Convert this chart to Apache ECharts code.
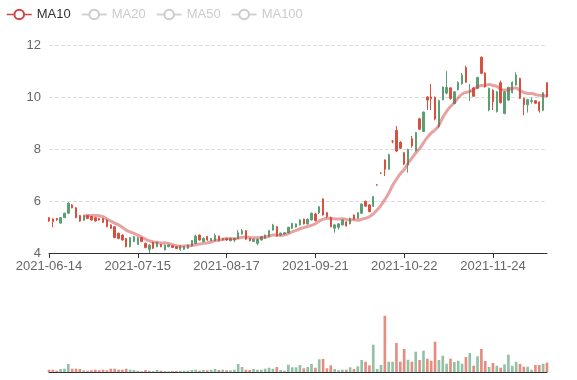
<!DOCTYPE html>
<html><head><meta charset="utf-8">
<script src="https://cdn.jsdelivr.net/npm/echarts@6/dist/echarts.min.js"></script>
<style>html,body{margin:0;padding:0;background:#fff;} #main{width:577px;height:380px;}</style>
</head><body><div id="main"></div>
<script>
const dates = [
'2021-06-14','2021-06-15','2021-06-16','2021-06-17','2021-06-18','2021-06-21','2021-06-22','2021-06-23','2021-06-24','2021-06-25',
'2021-06-28','2021-06-29','2021-06-30','2021-07-01','2021-07-02','2021-07-05','2021-07-06','2021-07-07','2021-07-08','2021-07-09',
'2021-07-12','2021-07-13','2021-07-14','2021-07-15','2021-07-16','2021-07-19','2021-07-20','2021-07-21','2021-07-22','2021-07-23',
'2021-07-26','2021-07-27','2021-07-28','2021-07-29','2021-07-30','2021-08-02','2021-08-03','2021-08-04','2021-08-05','2021-08-06',
'2021-08-09','2021-08-10','2021-08-11','2021-08-12','2021-08-13','2021-08-16','2021-08-17','2021-08-18','2021-08-19','2021-08-20',
'2021-08-23','2021-08-24','2021-08-25','2021-08-26','2021-08-27','2021-08-30','2021-08-31','2021-09-01','2021-09-02','2021-09-03',
'2021-09-07','2021-09-08','2021-09-09','2021-09-10','2021-09-13','2021-09-14','2021-09-15','2021-09-16','2021-09-17','2021-09-21',
'2021-09-22','2021-09-23','2021-09-24','2021-09-27','2021-09-28','2021-09-29','2021-09-30','2021-10-01','2021-10-04','2021-10-05',
'2021-10-06','2021-10-07','2021-10-08','2021-10-11','2021-10-12','2021-10-13','2021-10-14','2021-10-15','2021-10-18','2021-10-19',
'2021-10-20','2021-10-21','2021-10-22','2021-10-25','2021-10-26','2021-10-27','2021-10-28','2021-10-29','2021-11-01','2021-11-02',
'2021-11-03','2021-11-04','2021-11-05','2021-11-08','2021-11-09','2021-11-10','2021-11-11','2021-11-12','2021-11-15','2021-11-16',
'2021-11-17','2021-11-18','2021-11-19','2021-11-22','2021-11-23','2021-11-24','2021-11-25','2021-11-26','2021-11-29','2021-11-30',
'2021-12-01','2021-12-02','2021-12-03','2021-12-06','2021-12-07','2021-12-08','2021-12-09','2021-12-10','2021-12-13','2021-12-14'
];
// [open, close, low, high]
const ohlc = [
[5.36,5.23,5.20,5.38],[5.31,5.21,4.99,5.33],[5.33,5.27,5.24,5.35],[5.15,5.36,5.13,5.38],[5.36,5.53,5.34,5.55],
[5.53,5.91,5.50,5.95],[5.85,5.74,5.72,5.88],[5.74,5.36,5.34,5.76],[5.44,5.23,5.20,5.46],[5.26,5.44,5.24,5.46],
[5.44,5.33,5.30,5.46],[5.40,5.27,5.25,5.43],[5.36,5.23,5.21,5.38],[5.33,5.27,5.25,5.35],[5.33,5.18,5.16,5.35],
[5.27,5.01,4.99,5.29],[5.08,4.95,4.93,5.10],[5.01,4.59,4.57,5.03],[4.76,4.56,4.53,4.78],[4.69,4.50,4.48,4.71],
[4.56,4.24,4.22,4.58],[4.24,4.59,4.22,4.62],[4.44,4.63,4.42,4.66],[4.33,4.59,4.31,4.62],[4.59,4.44,4.42,4.62],
[4.37,4.21,4.18,4.40],[4.14,4.31,4.00,4.33],[4.41,4.18,4.15,4.43],[4.24,4.41,4.22,4.43],[4.33,4.24,4.22,4.35],
[4.12,4.31,4.10,4.33],[4.24,4.31,4.22,4.33],[4.28,4.21,4.19,4.30],[4.24,4.17,4.15,4.26],[4.14,4.27,4.08,4.29],
[4.14,4.24,4.12,4.26],[4.18,4.31,4.16,4.33],[4.27,4.48,4.25,4.50],[4.37,4.65,4.35,4.71],[4.69,4.50,4.48,4.71],
[4.44,4.56,4.42,4.60],[4.63,4.50,4.47,4.65],[4.47,4.56,4.45,4.58],[4.47,4.68,4.45,4.75],[4.65,4.47,4.45,4.67],
[4.50,4.56,4.48,4.58],[4.56,4.50,4.48,4.58],[4.47,4.56,4.45,4.58],[4.50,4.56,4.42,4.58],[4.56,4.78,4.54,4.88],
[4.73,4.86,4.71,4.92],[4.86,4.53,4.50,4.88],[4.56,4.47,4.45,4.58],[4.44,4.53,4.42,4.56],[4.37,4.53,4.30,4.55],
[4.50,4.63,4.48,4.65],[4.56,4.69,4.54,4.71],[4.63,4.86,4.61,4.88],[4.88,5.08,4.86,5.12],[5.01,4.65,4.63,5.03],
[4.69,4.76,4.67,4.79],[4.73,4.78,4.70,4.81],[4.78,4.99,4.76,5.01],[4.95,5.14,4.93,5.16],[5.00,5.12,4.98,5.14],
[5.08,5.27,5.06,5.30],[5.30,5.12,5.10,5.32],[5.12,5.30,5.10,5.33],[5.27,5.53,5.25,5.56],[5.50,5.24,5.22,5.55],
[5.55,5.78,5.50,5.80],[6.08,5.46,5.44,6.10],[5.55,5.40,5.35,5.58],[5.37,5.01,4.99,5.40],[4.95,5.08,4.78,5.12],
[4.99,5.12,4.90,5.15],[5.08,5.27,5.06,5.30],[5.20,5.04,5.02,5.22],[5.12,5.33,5.10,5.36],[5.46,5.30,5.28,5.48],
[5.33,5.55,5.31,5.57],[5.53,5.88,5.50,5.91],[5.99,5.80,5.78,6.01],[5.85,5.59,5.57,5.88],[5.80,6.17,5.78,6.19],
[6.62,6.62,6.59,6.65],[7.07,7.07,7.04,7.10],[7.58,7.22,6.96,7.60],[7.22,7.78,7.20,7.82],[8.30,8.30,8.22,8.35],
[8.71,7.92,7.88,8.88],[8.26,8.03,8.01,8.30],[7.86,7.42,7.38,7.88],[7.38,7.99,7.09,8.01],[8.40,8.12,8.05,8.50],
[7.93,8.63,7.90,8.65],[9.16,8.76,8.74,9.20],[8.67,9.42,8.65,9.44],[10.00,9.88,9.50,10.03],[10.00,9.93,9.50,10.50],
[9.98,9.15,9.10,10.02],[8.87,9.86,8.80,9.90],[9.89,10.38,9.87,10.41],[10.15,10.37,10.10,11.00],[10.35,9.94,9.90,10.38],
[9.75,10.20,9.72,10.22],[10.28,10.56,10.25,10.60],[10.50,10.84,10.48,10.92],[11.13,10.57,10.55,11.20],[10.20,10.24,9.85,10.50],
[10.35,10.03,10.00,10.38],[10.33,10.75,10.30,10.78],[11.53,10.91,10.88,11.56],[10.92,10.40,10.36,10.95],[9.50,10.33,9.45,10.36],
[10.26,9.82,9.50,10.30],[9.44,10.20,9.40,10.23],[10.55,9.78,9.75,10.63],[9.37,10.20,9.33,10.23],[9.88,10.37,9.85,10.40],
[10.17,10.57,10.14,10.60],[10.46,10.85,10.44,10.95],[10.71,9.95,9.92,10.74],[9.95,9.70,9.30,9.97],[9.70,9.90,9.40,9.93],
[9.83,9.86,9.75,9.98],[9.86,9.76,9.74,9.88],[9.81,9.48,9.40,9.83],[9.49,10.16,9.45,10.18],[10.55,10.01,9.98,10.57]
];
const volumes = [
23,23,13,30,33,80,33,33,30,17, 13,17,23,17,23,17,33,33,23,23,
33,23,20,13,7,20,13,7,20,13, 10,7,10,10,13,13,13,20,23,13,
20,17,23,30,20,23,17,17,23,80, 50,23,20,30,23,23,33,43,33,50,
20,13,73,47,47,70,37,50,80,43, 127,130,37,67,30,17,23,23,47,30,
57,120,103,67,273,30,70,563,103,103, 290,103,230,123,103,203,120,213,133,113,
303,120,163,83,133,100,113,83,150,190, 63,157,230,110,50,90,63,43,77,173,
63,103,80,53,53,23,70,70,83,93
];
const maNames = ['MA10','MA20','MA50','MA100'];
const maDays = [10,20,50,100];
const yTicks = [4,6,8,10,12];

const upColor = '#5b9f76';
const downColor = '#d9503f';
const maColors = ['#d04545','#5b7bd5','#e0a030','#8a6cc0'];

function calcMA(n){
  const out=[];
  for(let i=0;i<ohlc.length;i++){
    if(i<n-1){out.push('-');continue;}
    let s=0;for(let j=0;j<n;j++) s+=ohlc[i-j][1];
    out.push(+(s/n).toFixed(3));
  }
  return out;
}
const volData = volumes.map((v,i)=>({value:v,itemStyle:{color: ohlc[i][0]>ohlc[i][1]?downColor:upColor}}));

const chart = echarts.init(document.getElementById('main'), null, {renderer:'canvas'});
chart.setOption({
  animation:false,
  textStyle:{fontSize:13},
  legend:{
    left:1, top:3, itemGap:10, itemWidth:25, itemHeight:12,
    data: maNames,
    selected:{MA10:true, MA20:false, MA50:false, MA100:false},
    textStyle:{color:'#333', fontSize:13},
    inactiveColor:'#ccc',
    lineStyle:{width:1.5, opacity:1},
    itemStyle:{borderWidth:1.2}
  },
  grid:[
    {left:49,right:30,top:45,height:208},
    {left:49,right:30,top:300,height:72}
  ],
  xAxis:[
    {type:'category',data:dates,boundaryGap:false,gridIndex:0,
     axisLine:{lineStyle:{color:'#333'}},
     axisTick:{show:true,interval:22,length:5,lineStyle:{color:'#333'}},
     axisLabel:{interval:22,color:'#666',fontSize:13,margin:7},
     splitLine:{show:false}},
    {type:'category',data:dates,boundaryGap:false,gridIndex:1,
     axisLine:{lineStyle:{color:'#333'}},axisTick:{show:false},axisLabel:{show:false},splitLine:{show:false}}
  ],
  yAxis:[
    {type:'value',gridIndex:0,min:yTicks[0],max:yTicks[yTicks.length-1],interval:yTicks[1]-yTicks[0],
     axisLine:{show:false},axisTick:{show:false},
     axisLabel:{color:'#666',fontSize:13,margin:8},
     splitLine:{lineStyle:{type:'dashed',color:'#ddd'}}},
    {type:'value',gridIndex:1,min:0,max:720,show:false,splitLine:{show:false}}
  ],
  series:[
    {name:'K',type:'candlestick',xAxisIndex:0,yAxisIndex:0,data:ohlc.map(d=>[d[0],d[1],d[2],d[3]]),
     itemStyle:{color:upColor,color0:downColor,borderColor:upColor,borderColor0:downColor,borderColorDoji:downColor}},
    ...maNames.map((n,k)=>({name:n,type:'line',xAxisIndex:0,yAxisIndex:0,data:calcMA(maDays[k]),
      smooth:true,showSymbol:false,color:maColors[k],lineStyle:{width:3,opacity:0.5}})),
    {name:'Volume',type:'bar',xAxisIndex:1,yAxisIndex:1,data:volData,itemStyle:{opacity:0.65}}
  ]
});
</script></body></html>
